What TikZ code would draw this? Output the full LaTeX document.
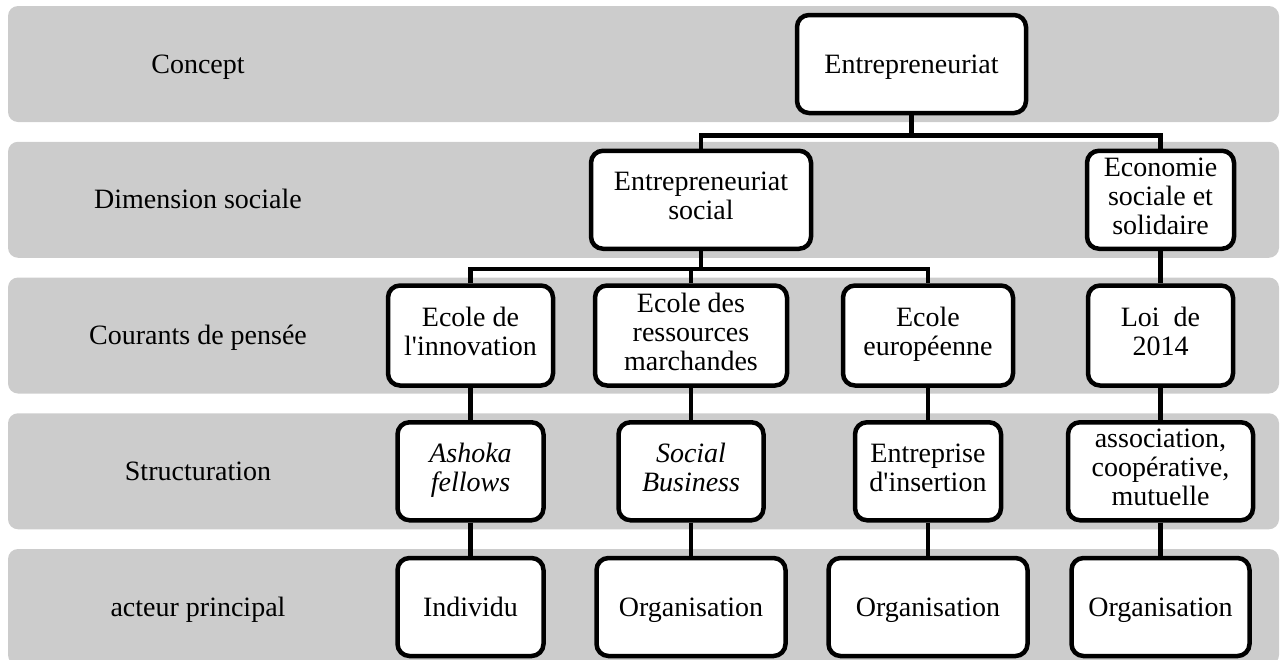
\documentclass[tikz,border=0pt]{standalone}
\usepackage{fontspec}
\setmainfont{Liberation Serif}
\usetikzlibrary{positioning}
\newcommand{\topstrut}{\rule{0pt}{26pt}}
\newcommand{\botstrut}{\rule[-8pt]{0pt}{8pt}}

\begin{document}
\begin{tikzpicture}[x=1pt,y=-1pt,
    font=\fontsize{28}{29}\selectfont,
    band/.style={fill=gray!40,rounded corners=10pt},
    rowlabel/.style={inner sep=0pt,execute at begin node=\topstrut\botstrut},
    box/.style={draw,fill=white,line width=4.5pt,rounded corners=12pt,
      align=center,inner sep=0pt,minimum height=98pt,
      execute at begin node=\topstrut,execute at end node=\botstrut},
    link/.style={line width=4.5pt},
    node distance=135.75pt]
      \useasboundingbox (0,0) rectangle (1280,659);
      \clip (0,0) rectangle (1280,659);

      \foreach \t [count=\i] in {Concept,Dimension sociale,Courants de pensée,Structuration,acteur principal} {
        \pgfmathsetmacro{\y}{64+135.75*(\i-1)}
        \fill[band] (8,\y-58) rectangle (1279,\y+58);
        \node[rowlabel] (r\i) at (198,\y) {\t};
      }

      \node[box,minimum width=229pt] (1) at (911.5,64) {Entrepreneuriat};
      \node[box,minimum width=220pt] (2) at (701,199.75) {Entrepreneuriat\\social};
      \node[box,minimum width=147pt] (3) at (1160.5,199.75) {Economie\\sociale et\\solidaire};

      \node[box,minimum width=165pt,minimum height=100pt] (4) at (470.5,335.5) {Ecole de\\l\textquotesingle innovation};
      \node[box,minimum width=192pt,minimum height=100pt] (5) at (691,335.5) {Ecole des\\ressources\\marchandes};
      \node[box,minimum width=170pt,minimum height=100pt] (6) at (928,335.5) {Ecole\\européenne};
      \node[box,below of=3,minimum width=145pt,minimum height=100pt] (7) {Loi\ \ de\\2014};

      \node[box,below of=4,minimum width=146pt] (8) {\textit{Ashoka}\\\textit{fellows}};
      \node[box,below of=5,minimum width=145pt] (9) {\textit{Social}\\\textit{Business}};
      \node[box,below of=6,minimum width=146pt] (10) {Entreprise\\d\textquotesingle insertion};
      \node[box,below of=7,minimum width=185pt] (11) {association,\\coopérative,\\mutuelle};

      \node[box,below of=8,minimum width=146pt] (12) {Individu};
      \node[box,below of=9,minimum width=189pt] (13) {Organisation};
      \node[box,below of=10,minimum width=199pt] (14) {Organisation};
      \node[box,below of=11,minimum width=178pt] (15) {Organisation};

      \draw[link] (1.south) -- ++(0,20) -| (2.north);
      \draw[link] (1.south) -- ++(0,20) -| (3.north);
      \draw[link] (2.south) -- ++(0,18) -| (4.north);
      \draw[link] (2.south) -- ++(0,18) -| (5.north);
      \draw[link] (2.south) -- ++(0,18) -| (6.north);
      \draw[link] (3) -- (7);
      \draw[link] (4) -- (8);
      \draw[link] (5) -- (9);
      \draw[link] (6) -- (10);
      \draw[link] (7) -- (11);
      \draw[link] (8) -- (12);
      \draw[link] (9) -- (13);
      \draw[link] (10) -- (14);
      \draw[link] (11) -- (15);
    \end{tikzpicture}
\end{document}
